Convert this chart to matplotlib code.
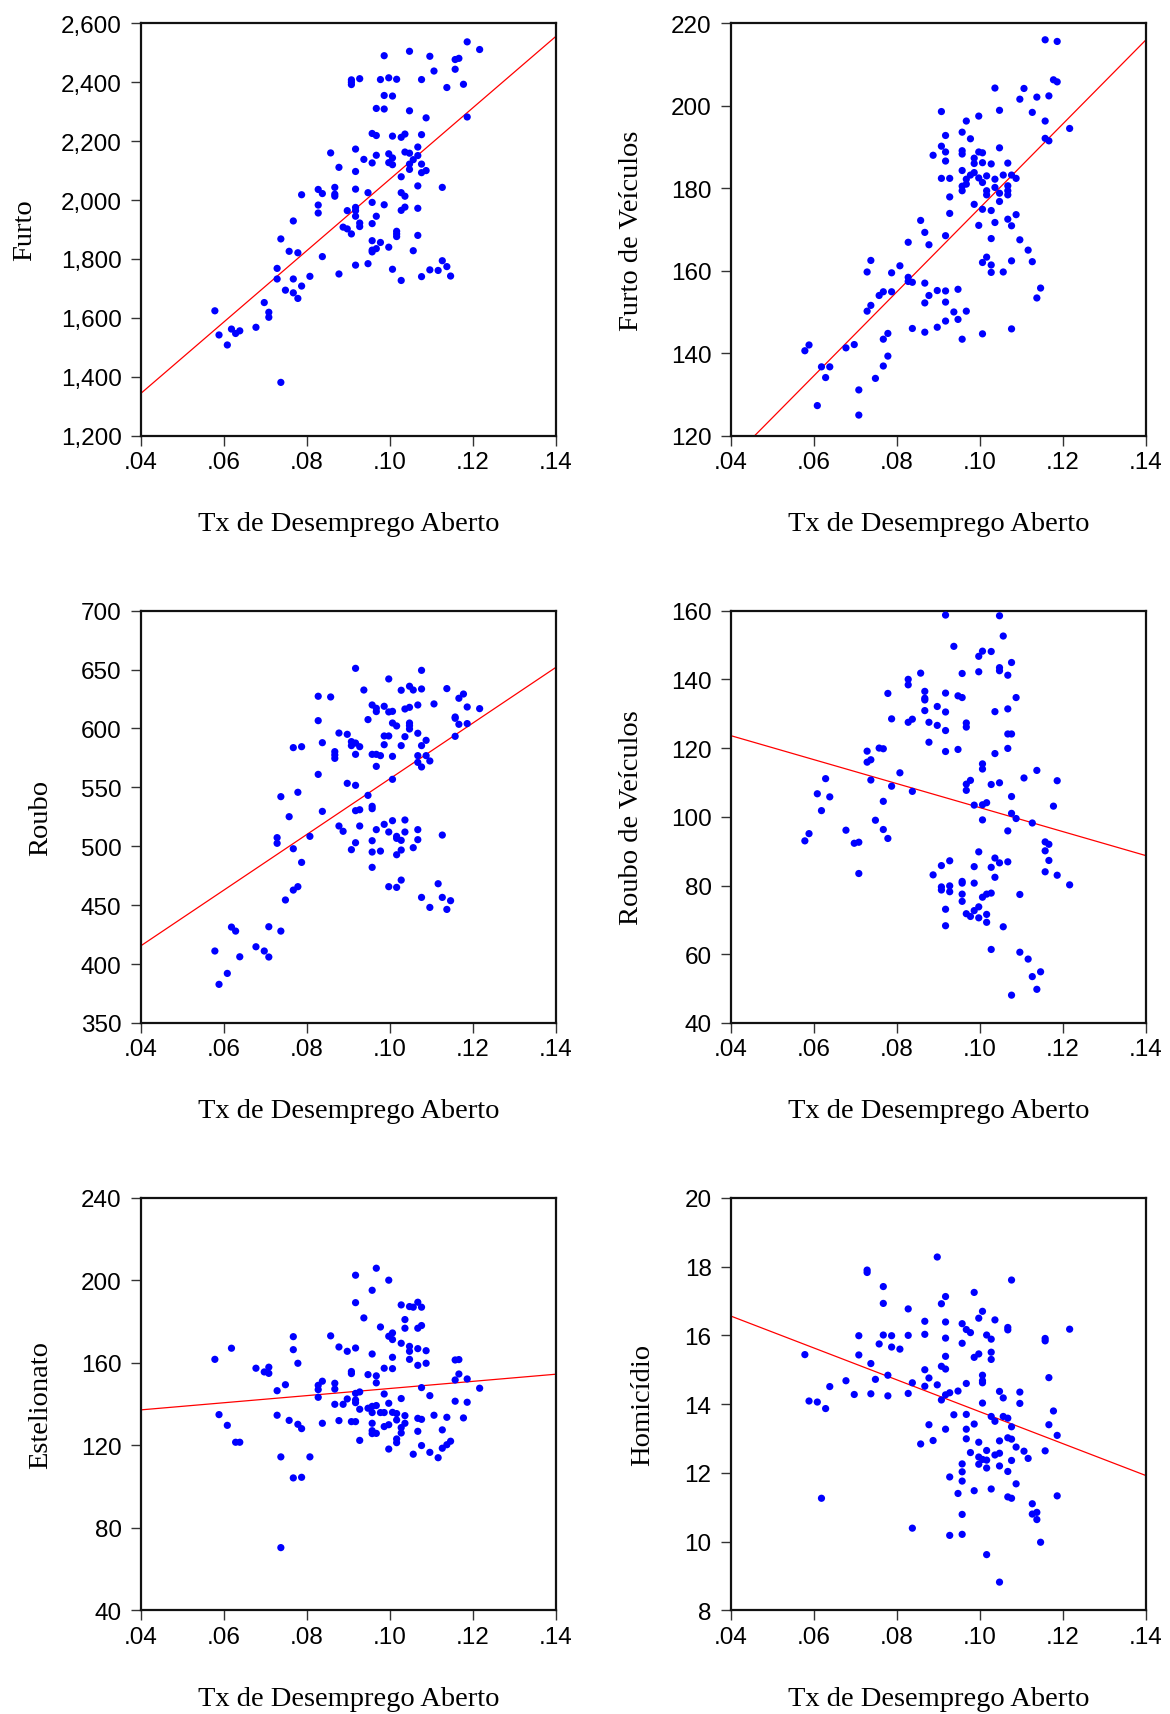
import matplotlib
matplotlib.use("Agg")
import matplotlib.pyplot as plt
from matplotlib.ticker import FixedLocator, FuncFormatter

# ---------------- data (x = Tx de Desemprego Aberto, grouped by x) ----------------
furto = [
    (.0578, [1624]), (.0588, [1542]), (.0608, [1508]), (.0618, [1562]), (.0628, [1547]),
    (.0638, [1556]), (.0677, [1568]), (.0697, [1652]), (.0708, [1619, 1602]),
    (.0728, [1768, 1732]), (.0737, [1868, 1381]), (.0748, [1694]), (.0757, [1826]),
    (.0767, [1929, 1732, 1685]), (.0778, [1821, 1666]), (.0787, [2018, 1708]),
    (.0807, [1741]), (.0827, [2036, 1983, 1956]), (.0837, [2022, 1808]), (.0857, [2160]),
    (.0867, [2043, 2020, 2013]), (.0877, [2111, 1749]), (.0887, [1908]),
    (.0897, [1964, 1902]), (.0907, [2408, 2400, 2392, 1885]),
    (.0917, [2173, 2097, 2037, 1975, 1964, 1945, 1779]), (.0927, [2412, 1922, 1910]),
    (.0937, [2138]), (.0947, [2025, 1784]),
    (.0957, [2226, 2126, 1992, 1920, 1862, 1830, 1824]),
    (.0967, [2311, 2219, 2152, 1945, 1835]), (.0977, [2409, 1856]),
    (.0986, [2490, 2355, 2309, 1984]), (.0997, [2415, 2157, 2127, 1840]),
    (.1006, [2353, 2217, 2143, 2120, 1765]), (.1016, [2410, 1894, 1885, 1876]),
    (.1027, [2213, 2079, 2025, 1965, 1727]), (.1036, [2224, 2163, 2013, 1976]),
    (.1047, [2505, 2303, 2159, 2122, 2104]), (.1056, [2137, 1828]),
    (.1067, [2180, 2151, 2048, 1972, 1880]), (.1076, [2409, 2222, 2122, 2093, 1740]),
    (.1087, [2279, 2100]), (.1096, [2488, 1763]), (.1106, [2438]), (.1116, [1761]),
    (.1126, [2043, 1794]), (.1137, [2382, 1774]), (.1146, [1742]), (.1157, [2477, 2444]),
    (.1166, [2481]), (.1177, [2393]), (.1186, [2537, 2282]), (.1216, [2511]),
]
furto_veic = [
    (.0578, [140.6]), (.0588, [142.0]), (.0608, [127.3]), (.0618, [136.7]), (.0628, [134.1]),
    (.0638, [136.7]), (.0677, [141.3]), (.0697, [142.1]), (.0708, [131.1, 125.0]),
    (.0728, [159.7, 150.2]), (.0737, [162.5, 151.6]), (.0748, [133.9]), (.0757, [154.0]),
    (.0767, [154.9, 143.4, 136.9]), (.0778, [144.8, 139.3]), (.0787, [159.5, 154.9]),
    (.0807, [161.2]), (.0827, [166.9, 158.4, 157.4]), (.0837, [157.2, 146.0]),
    (.0857, [172.2]), (.0867, [169.3, 157.0, 152.2, 145.1]), (.0877, [166.3, 154.0]),
    (.0887, [188.0]), (.0897, [155.2, 146.3]), (.0907, [198.6, 190.2, 182.4]),
    (.0917, [192.8, 188.8, 186.6, 168.5, 155.1, 152.4, 147.8]),
    (.0927, [182.4, 177.9, 173.9]), (.0937, [150.0]), (.0947, [155.5, 148.2]),
    (.0957, [193.6, 189.1, 188.3, 184.3, 180.5, 179.4, 143.4]),
    (.0967, [196.3, 182.2, 181.0, 150.2]), (.0977, [192.0, 183.2]),
    (.0986, [187.3, 186.0, 183.8, 176.1]), (.0997, [197.5, 188.8, 182.5, 171.0]),
    (.1006, [188.6, 186.2, 181.4, 174.9, 162.0, 144.7]),
    (.1016, [183.0, 179.4, 178.4, 163.3]), (.1027, [185.9, 174.6, 167.8, 161.4, 159.6]),
    (.1036, [204.3, 182.2, 180.2, 171.7]), (.1047, [198.9, 189.8, 178.8, 176.8]),
    (.1056, [183.2, 159.7]), (.1067, [186.1, 180.6, 179.4, 178.4, 172.5]),
    (.1076, [183.2, 170.9, 162.4, 145.9]), (.1087, [182.4, 173.6]),
    (.1096, [201.6, 167.5]), (.1106, [204.2]), (.1116, [165.0]), (.1126, [198.4, 162.2]),
    (.1137, [202.1, 153.4]), (.1146, [155.8]), (.1157, [216.0, 196.3, 192.1]),
    (.1166, [202.4, 191.5]), (.1177, [206.3]), (.1186, [215.6, 205.8]), (.1216, [194.5]),
]
roubo = [
    (.0578, [411.1]), (.0588, [382.8]), (.0608, [392.1]), (.0618, [431.4]), (.0628, [428.0]),
    (.0638, [406.2]), (.0677, [414.7]), (.0697, [411.1]), (.0708, [431.7, 406.0]),
    (.0728, [507.3, 502.5]), (.0737, [542.1, 428.0]), (.0748, [454.4]), (.0757, [525.1]),
    (.0767, [583.7, 497.9, 462.8]), (.0778, [545.8, 465.7]), (.0787, [584.5, 486.3]),
    (.0807, [508.4]), (.0827, [627.3, 606.6, 561.0]), (.0837, [587.9, 529.6]),
    (.0857, [626.7]), (.0867, [580.3, 577.5, 574.6]), (.0877, [596.1, 517.2]),
    (.0887, [512.7]), (.0897, [595.0, 553.4]), (.0907, [588.8, 585.4, 497.1]),
    (.0917, [651.0, 587.6, 578.0, 551.7, 530.2, 503.0]), (.0927, [584.5, 531.0, 517.2]),
    (.0937, [632.6]), (.0947, [607.5, 543.2]),
    (.0957, [619.9, 578.0, 533.9, 531.9, 504.7, 495.1, 482.1]),
    (.0967, [617.1, 614.3, 578.0, 567.8, 514.1]), (.0977, [576.9, 495.9]),
    (.0986, [618.8, 593.6, 586.2, 518.6]), (.0997, [642.0, 614.0, 593.6, 512.1, 465.7]),
    (.1006, [614.5, 604.6, 576.3, 556.8, 521.7]),
    (.1016, [602.1, 508.4, 506.7, 492.8, 465.1]),
    (.1027, [632.4, 585.4, 505.0, 496.8, 471.3]), (.1036, [616.5, 593.0, 522.3, 512.1]),
    (.1047, [635.8, 617.9, 604.6, 602.4, 599.5]), (.1056, [632.6, 498.8]),
    (.1067, [619.9, 595.9, 576.9, 571.2, 514.1, 505.6]),
    (.1076, [649.3, 633.5, 585.4, 567.3, 456.6]), (.1087, [589.9, 576.9]),
    (.1096, [572.4, 448.1]), (.1106, [620.8]), (.1116, [468.2]), (.1126, [509.5, 456.6]),
    (.1137, [633.8, 446.4]), (.1146, [453.8]), (.1157, [609.7, 608.6, 593.3]),
    (.1166, [625.6, 603.5]), (.1177, [629.2]), (.1186, [618.2, 604.1]), (.1216, [616.8]),
]
roubo_veic = [
    (.0578, [93.0]), (.0588, [95.1]), (.0608, [106.7]), (.0618, [101.8]), (.0628, [111.1]),
    (.0638, [105.8]), (.0677, [96.1]), (.0697, [92.3]), (.0708, [92.6, 83.5]),
    (.0728, [119.1, 115.9]), (.0737, [116.6, 110.7]), (.0748, [99.0]), (.0757, [120.0]),
    (.0767, [119.8, 104.5, 96.3]), (.0778, [135.9, 93.7]), (.0787, [128.5, 108.9]),
    (.0807, [112.8]), (.0827, [140.0, 138.4, 127.5]), (.0837, [128.4, 107.4]),
    (.0857, [141.8]), (.0867, [136.5, 134.5, 134.0, 130.9]), (.0877, [127.5, 121.7]),
    (.0887, [83.1]), (.0897, [132.1, 126.6]), (.0907, [85.8, 79.6, 78.7]),
    (.0917, [158.7, 136.0, 130.5, 125.1, 119.0, 73.1, 68.3]), (.0927, [87.2, 79.9, 78.2]),
    (.0937, [149.6]), (.0947, [135.2, 119.6]),
    (.0957, [141.7, 134.7, 81.2, 80.7, 77.5, 75.4]),
    (.0967, [127.3, 126.1, 109.5, 107.7, 71.8]), (.0977, [110.6, 71.0]),
    (.0986, [103.4, 85.5, 80.7, 72.7]), (.0997, [146.7, 142.2, 89.8, 73.8, 70.6]),
    (.1006, [148.2, 115.4, 113.9, 103.5, 99.1, 76.6]), (.1016, [104.1, 77.5, 71.6, 69.3]),
    (.1027, [148.1, 109.4, 85.3, 77.8, 61.4]), (.1036, [130.6, 118.4, 88.0, 82.4]),
    (.1047, [158.5, 143.4, 142.5, 109.9, 86.6]), (.1056, [152.6, 68.0]),
    (.1067, [141.2, 131.4, 124.1, 119.9, 95.9, 86.9]),
    (.1076, [144.9, 124.1, 105.9, 101.0, 48.1]), (.1087, [134.7, 99.5]),
    (.1096, [77.4, 60.6]), (.1106, [111.3]), (.1116, [58.6]), (.1126, [98.2, 53.5]),
    (.1137, [113.5, 49.8]), (.1146, [54.9]), (.1157, [92.7, 90.1, 84.0]),
    (.1166, [92.0, 87.3]), (.1177, [103.1]), (.1186, [110.5, 83.0]), (.1216, [80.2]),
]
estelionato = [
    (.0578, [161.7]), (.0588, [134.9]), (.0608, [129.7]), (.0618, [167.1]), (.0628, [121.5]),
    (.0638, [121.5]), (.0677, [157.4]), (.0697, [155.6]), (.0708, [157.9, 154.9]),
    (.0728, [146.5, 134.6]), (.0737, [114.4, 70.4]), (.0748, [149.4]), (.0757, [132.1]),
    (.0767, [172.7, 166.4, 104.2]), (.0778, [159.8, 130.2]), (.0787, [128.1, 104.5]),
    (.0807, [114.4]), (.0827, [149.1, 147.0, 143.3]), (.0837, [151.1, 130.7]),
    (.0857, [173.1]), (.0867, [150.1, 147.3, 139.9]), (.0877, [167.7, 132.0]),
    (.0887, [139.9]), (.0897, [165.6, 142.5]), (.0907, [155.8, 154.8, 131.5]),
    (.0917, [202.5, 189.2, 167.2, 145.2, 142.0, 140.7, 131.5]),
    (.0927, [145.9, 137.5, 122.4]), (.0937, [181.8]), (.0947, [154.3, 138.0]),
    (.0957, [195.2, 164.3, 138.9, 135.9, 130.7, 127.1, 125.7]),
    (.0967, [205.9, 153.7, 150.3, 139.3, 125.8]), (.0977, [177.4, 135.9]),
    (.0986, [157.4, 144.9, 135.9, 129.1]), (.0997, [200.1, 172.9, 140.4, 130.0, 118.2]),
    (.1006, [174.5, 171.3, 162.7, 157.2, 136.0]), (.1016, [135.4, 132.3, 123.1, 121.3]),
    (.1027, [188.1, 169.5, 142.7, 128.6, 126.0]), (.1036, [181.0, 176.8, 134.4, 130.7]),
    (.1047, [187.3, 168.0, 165.6, 161.7]), (.1056, [187.0, 115.7]),
    (.1067, [189.4, 176.8, 166.9, 158.8, 133.1, 126.8]),
    (.1076, [187.0, 178.1, 148.0, 132.6, 119.9]), (.1087, [165.9, 159.8]),
    (.1096, [144.1, 116.6]), (.1106, [134.6]), (.1116, [114.0]), (.1126, [127.5, 118.6]),
    (.1137, [133.6, 120.3]), (.1146, [122.0]), (.1157, [161.4, 151.7, 141.4]),
    (.1166, [161.6, 154.6]), (.1177, [133.3]), (.1186, [152.2, 140.9]), (.1216, [147.7]),
]
homicidio = [
    (.0578, [15.44]), (.0588, [14.09]), (.0608, [14.06]), (.0618, [11.26]), (.0628, [13.87]),
    (.0638, [14.51]), (.0677, [14.68]), (.0697, [14.28]), (.0708, [15.99, 15.43]),
    (.0728, [17.90, 17.83]), (.0737, [15.18, 14.30]), (.0748, [14.72]), (.0757, [15.75]),
    (.0767, [17.42, 16.93, 16.01]), (.0778, [14.84, 14.24]), (.0787, [15.99, 15.66]),
    (.0807, [15.60]), (.0827, [16.77, 16.00, 14.31]), (.0837, [14.62, 10.39]),
    (.0857, [12.84]), (.0867, [16.41, 16.03, 15.00, 14.52]), (.0877, [14.76, 13.40]),
    (.0887, [12.94]), (.0897, [18.28, 14.56]), (.0907, [16.92, 15.10, 14.12]),
    (.0917, [17.13, 16.39, 15.92, 15.39, 15.02, 14.27, 13.27]),
    (.0927, [14.33, 11.88, 10.18]), (.0937, [13.69]), (.0947, [14.38, 11.40]),
    (.0957, [16.34, 15.77, 12.26, 12.03, 11.76, 10.79, 10.21]),
    (.0967, [16.17, 14.60, 13.70, 13.27, 12.99]), (.0977, [16.08, 12.59]),
    (.0986, [17.25, 15.36, 13.42, 11.48]), (.0997, [16.50, 15.46, 12.89, 12.46, 12.25]),
    (.1006, [16.70, 14.84, 14.68, 14.62, 14.03, 12.39]),
    (.1016, [16.01, 12.65, 12.37, 12.14, 9.62]),
    (.1027, [15.89, 15.51, 15.30, 13.64, 11.53]), (.1036, [16.45, 13.50, 12.52]),
    (.1047, [14.37, 12.93, 12.57, 12.20, 8.82]), (.1056, [14.18, 13.64]),
    (.1067, [16.23, 16.16, 13.59, 13.02, 12.04, 11.30]),
    (.1076, [17.61, 13.34, 12.98, 12.36, 11.26]), (.1087, [12.75, 11.68]),
    (.1096, [14.35, 14.02]), (.1106, [12.63]), (.1116, [12.42]), (.1126, [11.10, 10.80]),
    (.1137, [10.85, 10.64]), (.1146, [9.98]), (.1157, [15.91, 15.84, 12.64]),
    (.1166, [14.77, 13.40]), (.1177, [13.80]), (.1186, [13.09, 11.33]), (.1216, [16.18]),
]

# fitted line values read at x = .04 and x = .14
fit_x = [0.04, 0.14]
fit_furto = [1344, 2556]
fit_furto_veic = [114.2, 216.0]
fit_roubo = [415.6, 651.9]
fit_roubo_veic = [123.6, 88.7]
fit_estelionato = [137.2, 154.5]
fit_homicidio = [16.56, 11.92]

x_ticks = [0.04, 0.06, 0.08, 0.10, 0.12, 0.14]
x_tick_labels = [".04", ".06", ".08", ".10", ".12", ".14"]
x_label = "Tx de Desemprego Aberto"

y_labels = ["Furto", "Furto de Veículos", "Roubo", "Roubo de Veículos",
            "Estelionato", "Homicídio"]
y_limits = [(1200, 2600), (120, 220), (350, 700), (40, 160), (40, 240), (8, 20)]
y_ticks = [
    [1200, 1400, 1600, 1800, 2000, 2200, 2400, 2600],
    [120, 140, 160, 180, 200, 220],
    [350, 400, 450, 500, 550, 600, 650, 700],
    [40, 60, 80, 100, 120, 140, 160],
    [40, 80, 120, 160, 200, 240],
    [8, 10, 12, 14, 16, 18, 20],
]


def flatten(groups):
    xs, ys = [], []
    for xv, vals in groups:
        for v in vals:
            xs.append(xv)
            ys.append(v)
    return xs, ys


datasets = [furto, furto_veic, roubo, roubo_veic, estelionato, homicidio]
fits = [fit_furto, fit_furto_veic, fit_roubo, fit_roubo_veic, fit_estelionato, fit_homicidio]

# ---------------- figure ----------------
W, H = 1170, 1715
fig = plt.figure(figsize=(W / 100, H / 100), dpi=100)

col_left = [141, 731]
row_bottom = [436.7, 1024.0, 1611.3]
ax_w, ax_h = 415, 412.4
ylabel_offset = [116, 100, 100, 100, 100, 88]

tick_font = "Liberation Sans"
label_font = "Liberation Serif"

for i in range(6):
    r, c = divmod(i, 2)
    left = col_left[c] / W
    bottom = 1 - row_bottom[r] / H
    ax = fig.add_axes([left, bottom, ax_w / W, ax_h / H])

    xs, ys = flatten(datasets[i])
    ax.scatter(xs, ys, s=27, color="#0000FF", edgecolors="none", zorder=3, clip_on=False)
    ax.plot(fit_x, fits[i], color="#FF0000", lw=0.9, zorder=2)

    ax.set_xlim(0.04, 0.14)
    ax.set_ylim(*y_limits[i])
    ax.xaxis.set_major_locator(FixedLocator(x_ticks))
    ax.set_xticklabels(x_tick_labels)
    ax.yaxis.set_major_locator(FixedLocator(y_ticks[i]))
    if i == 0:
        ax.yaxis.set_major_formatter(FuncFormatter(lambda v, p: f"{v:,.0f}"))
    else:
        ax.yaxis.set_major_formatter(FuncFormatter(lambda v, p: f"{v:.0f}"))

    ax.tick_params(axis="both", direction="out", length=7, width=1.0, color="#333333",
                   labelsize=17.5, top=False, right=False)
    ax.tick_params(axis="y", pad=7)
    ax.tick_params(axis="x", pad=4)
    for lab in ax.get_xticklabels() + ax.get_yticklabels():
        lab.set_fontfamily(tick_font)
    for sp in ax.spines.values():
        sp.set_linewidth(1.6)
        sp.set_color("#111111")

    ax.text(0.5, -88 / ax_h, x_label, transform=ax.transAxes, ha="center", va="center",
            fontsize=20.5, family=label_font)
    ax.text(-ylabel_offset[i] / ax_w, 0.5, y_labels[i], transform=ax.transAxes,
            rotation=90, ha="center", va="center", fontsize=20.5, family=label_font)

fig.savefig("out.png", dpi=100, facecolor="white")
